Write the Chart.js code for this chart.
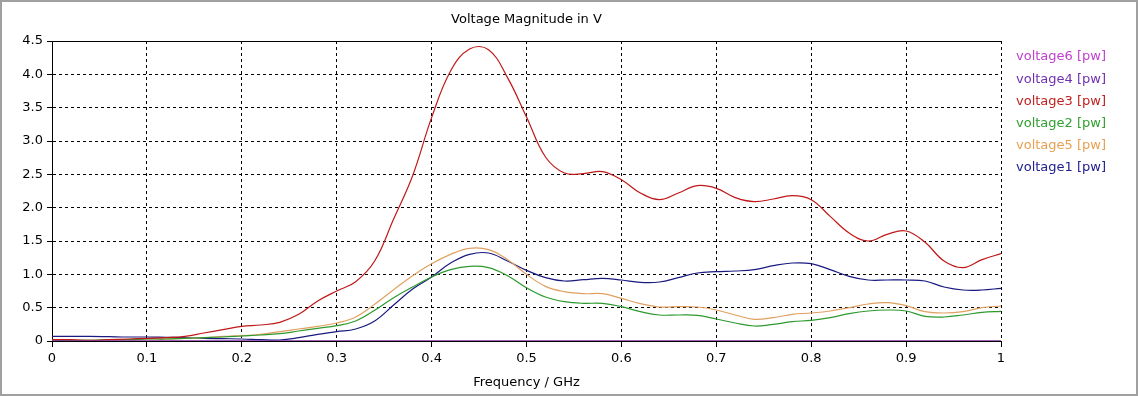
<!DOCTYPE html>
<html>
<head>
<meta charset="utf-8">
<script src="https://cdn.jsdelivr.net/npm/chart.js@4/dist/chart.umd.min.js"></script>
<style>
  html, body { margin: 0; padding: 0; background: #fff; }
  #wrap { width: 1138px; height: 396px; }
</style>
</head>
<body>
<div id="wrap"><canvas id="chart" width="1138" height="396"></canvas></div>
<script>
// frequency grid in GHz
const freq = [0, 0.02, 0.04, 0.06, 0.08, 0.1, 0.12, 0.14, 0.16, 0.18, 0.2, 0.22, 0.24, 0.26, 0.28, 0.3,
  0.32, 0.34, 0.36, 0.38, 0.4, 0.42, 0.44, 0.46, 0.48, 0.5, 0.52, 0.54, 0.56, 0.58, 0.6,
  0.62, 0.64, 0.66, 0.68, 0.7, 0.72, 0.74, 0.76, 0.78, 0.8, 0.82, 0.84, 0.86, 0.88, 0.9,
  0.92, 0.94, 0.96, 0.98, 1.0];

const voltage6 = [0, 0, 0, 0, 0, 0, 0, 0, 0, 0, 0, 0, 0, 0, 0, 0, 0, 0, 0, 0, 0, 0, 0, 0, 0, 0,
  0, 0, 0, 0, 0, 0, 0, 0, 0, 0, 0, 0, 0, 0, 0, 0, 0, 0, 0, 0, 0, 0, 0, 0, 0];
const voltage4 = [0, 0, 0, 0, 0, 0, 0, 0, 0, 0, 0, 0, 0, 0, 0, 0, 0, 0, 0, 0, 0, 0, 0, 0, 0, 0,
  0, 0, 0, 0, 0, 0, 0, 0, 0, 0, 0, 0, 0, 0, 0, 0, 0, 0, 0, 0, 0, 0, 0, 0, 0];
const voltage3 = [0.02, 0.02, 0.01, 0.02, 0.03, 0.04, 0.05, 0.07, 0.12, 0.17, 0.22, 0.24, 0.28, 0.4, 0.6, 0.75,
  0.89, 1.2, 1.83, 2.48, 3.35, 4.05, 4.38, 4.37, 3.95, 3.36, 2.76, 2.52, 2.51, 2.54, 2.42,
  2.22, 2.12, 2.22, 2.33, 2.29, 2.15, 2.09, 2.13, 2.18, 2.12, 1.87, 1.62, 1.5, 1.6, 1.65,
  1.48, 1.2, 1.1, 1.22, 1.31];
const voltage2 = [0.01, 0.01, 0.01, 0.02, 0.02, 0.03, 0.03, 0.04, 0.05, 0.06, 0.075, 0.09, 0.11, 0.15, 0.19, 0.23,
  0.3, 0.46, 0.65, 0.81, 0.96, 1.07, 1.12, 1.1, 0.98, 0.8, 0.66, 0.59, 0.565, 0.565, 0.515,
  0.44, 0.39, 0.39, 0.385, 0.33, 0.27, 0.225, 0.25, 0.29, 0.31, 0.35, 0.41, 0.45, 0.465, 0.45,
  0.37, 0.36, 0.39, 0.43, 0.445];
const voltage5 = [0.01, 0.01, 0.01, 0.02, 0.02, 0.03, 0.03, 0.04, 0.05, 0.07, 0.08, 0.1, 0.14, 0.18, 0.22, 0.27,
  0.36, 0.55, 0.77, 0.98, 1.16, 1.3, 1.39, 1.37, 1.22, 1.0, 0.82, 0.74, 0.71, 0.71, 0.64,
  0.56, 0.51, 0.515, 0.51, 0.465, 0.39, 0.325, 0.35, 0.4, 0.42, 0.45, 0.5, 0.555, 0.575, 0.53,
  0.44, 0.42, 0.44, 0.5, 0.525];
const voltage1 = [0.07, 0.07, 0.07, 0.065, 0.06, 0.06, 0.055, 0.05, 0.04, 0.035, 0.03, 0.02, 0.015, 0.05, 0.1, 0.14,
  0.18, 0.3, 0.54, 0.78, 0.96, 1.17, 1.3, 1.32, 1.2, 1.06, 0.95, 0.9, 0.92, 0.94, 0.915,
  0.88, 0.885, 0.95, 1.02, 1.04, 1.05, 1.07, 1.13, 1.17, 1.16, 1.07, 0.97, 0.915, 0.915, 0.915,
  0.9, 0.81, 0.765, 0.765, 0.79];

const seriesNames = ["voltage6 [pw]", "voltage4 [pw]", "voltage3 [pw]", "voltage2 [pw]", "voltage5 [pw]", "voltage1 [pw]"];
const seriesData = [voltage6, voltage4, voltage3, voltage2, voltage5, voltage1];
const seriesColors = ["#c040d0", "#6a2a90", "#c01818", "#2e9a2e", "#e0a060", "#1a1a80"];
const legendColors = ["#c040d0", "#7030b0", "#c02020", "#30a030", "#e8a050", "#202090"];
const drawOrder = [1, 0, 2, 3, 4, 5];

const FONT = "'DejaVu Sans', Verdana, sans-serif";

const frameAndText = {
  id: "frameAndText",
  beforeDraw(chart) {
    const ctx = chart.ctx;
    ctx.save();
    ctx.fillStyle = "#fff";
    ctx.fillRect(0, 0, chart.width, chart.height);
    ctx.strokeStyle = "#a0a0a0";
    ctx.lineWidth = 2;
    ctx.strokeRect(1, 1, chart.width - 2, chart.height - 2);
    ctx.restore();
  },
  afterDraw(chart) {
    const ctx = chart.ctx;
    const area = chart.chartArea;
    ctx.save();
    // top border of plot
    ctx.strokeStyle = "#000";
    ctx.lineWidth = 1;
    ctx.beginPath();
    ctx.moveTo(area.left, area.top + 0.5);
    ctx.lineTo(area.right, area.top + 0.5);
    ctx.stroke();
    // title
    ctx.font = "13px " + FONT;
    ctx.fillStyle = "#000";
    ctx.textAlign = "center";
    ctx.textBaseline = "middle";
    ctx.fillText("Voltage Magnitude in V", (area.left + area.right) / 2, 20);
    // legend
    ctx.textAlign = "left";
    seriesNames.forEach((name, i) => {
      ctx.fillStyle = legendColors[i];
      ctx.fillText(name, area.right + 15, 57 + i * 22.2);
    });
    ctx.restore();
  }
};

new Chart(document.getElementById("chart"), {
  type: "line",
  data: {
    labels: freq,
    datasets: seriesNames.map((name, i) => ({
      label: name,
      data: freq.map((f, j) => ({ x: f, y: seriesData[i][j] })),
      borderColor: seriesColors[i],
      borderWidth: 1.2,
      pointRadius: 0,
      fill: false,
      tension: 0.4,
      order: drawOrder[i]
    }))
  },
  options: {
    responsive: false,
    animation: false,
    layout: { padding: { left: 0, top: 41, right: 137, bottom: 0 } },
    plugins: {
      legend: { display: false },
      title: { display: false },
      tooltip: { enabled: false }
    },
    scales: {
      x: {
        type: "linear",
        min: 0,
        max: 1,
        afterFit(scale) { scale.height = 55; },
        ticks: {
          stepSize: 0.1,
          color: "#000",
          padding: 4,
          maxRotation: 0,
          font: { family: FONT, size: 13 },
          callback: (v) => Number(v.toFixed(1)).toString()
        },
        grid: {
          color: "#000",
          lineWidth: 1,
          tickLength: 6,
          tickColor: "#000",
          tickBorderDash: []
        },
        border: { display: true, color: "#000", width: 1, dash: [3, 3] },
        title: {
          display: true,
          text: "Frequency / GHz",
          color: "#000",
          font: { family: FONT, size: 13 },
          padding: { top: 2, bottom: 6 }
        }
      },
      y: {
        min: 0,
        max: 4.5,
        afterFit(scale) { scale.width = 52; },
        ticks: {
          stepSize: 0.5,
          color: "#000",
          padding: 4,
          font: { family: FONT, size: 13 }
        },
        grid: {
          color: "#000",
          lineWidth: 1,
          tickLength: 5,
          tickColor: "#000",
          tickBorderDash: []
        },
        border: { display: true, color: "#000", width: 1, dash: [3, 3] }
      }
    }
  },
  plugins: [frameAndText]
});
</script>
</body>
</html>
